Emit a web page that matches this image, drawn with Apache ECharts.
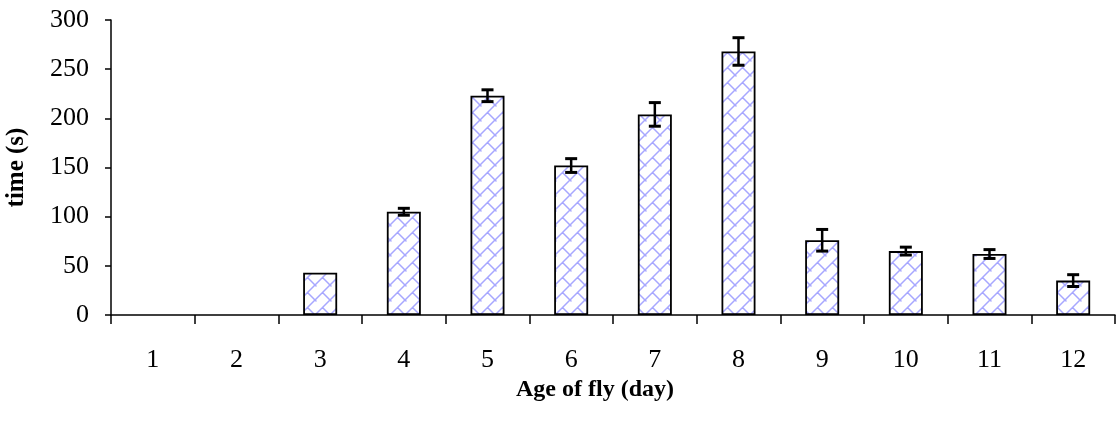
<!DOCTYPE html>
<html>
<head>
<meta charset="utf-8">
<script src="https://cdn.jsdelivr.net/npm/echarts@6/dist/echarts.min.js"></script>
<style>html,body{margin:0;padding:0;background:#fff;}#c{width:1116px;height:422px;}</style>
</head>
<body>
<div id="c"></div>
<script>
var categories = ['1','2','3','4','5','6','7','8','9','10','11','12'];
var meanTime = [0, 0, 43, 105, 223, 152, 204, 268, 76, 65, 62, 35];
var errTime = [0, 0, 0, 3.5, 6, 7, 12, 14, 11, 4, 4.5, 6];
var yTicks = {min: 0, max: 300, interval: 50};

function makePattern() {
  var s = 15;
  var cv = document.createElement('canvas');
  cv.width = s; cv.height = s;
  var ctx = cv.getContext('2d');
  ctx.fillStyle = '#ffffff';
  ctx.fillRect(0, 0, s, s);
  ctx.strokeStyle = 'rgba(130,130,255,0.7)';
  ctx.lineWidth = 1.5;
  ctx.lineCap = 'round';
  ctx.beginPath();
  ctx.moveTo(-2, s + 2); ctx.lineTo(s + 2, -2);
  ctx.moveTo(s / 2, s / 2); ctx.lineTo(s + 1, s + 1);
  ctx.moveTo(-1, -1); ctx.lineTo(1, 1);
  ctx.stroke();
  return cv;
}

var barData = meanTime.map(function (v) { return v > 0 ? v : null; });
var errData = categories.map(function (c, i) {
  return [i, meanTime[i] - errTime[i], meanTime[i] + errTime[i], errTime[i]];
});

var chart = echarts.init(document.getElementById('c'), null, {renderer: 'canvas'});
var font = 'Liberation Serif';
chart.setOption({
  animation: false,
  backgroundColor: '#ffffff',
  grid: {left: 111, right: 1, top: 20, bottom: 107, outerBoundsMode: 'none', containLabel: false},
  xAxis: {
    type: 'category',
    data: categories,
    boundaryGap: true,
    name: 'Age of fly (day)',
    nameLocation: 'middle',
    nameGap: 58,
    nameTextStyle: {fontFamily: font, fontWeight: 'bold', fontSize: 24, color: '#000', padding: [0, 36, 0, 0]},
    axisLine: {lineStyle: {color: '#000', width: 1.5}},
    axisTick: {show: true, length: 9, lineStyle: {color: '#000', width: 1.5}},
    axisLabel: {fontFamily: font, fontSize: 26, color: '#000', margin: 32}
  },
  yAxis: {
    type: 'value',
    min: yTicks.min, max: yTicks.max, interval: yTicks.interval,
    name: 'time (s)',
    nameLocation: 'middle',
    nameGap: 82,
    nameRotate: 90,
    nameTextStyle: {fontFamily: font, fontWeight: 'bold', fontSize: 25, color: '#000'},
    splitLine: {show: false},
    axisLine: {show: true, lineStyle: {color: '#000', width: 1.5}},
    axisTick: {show: true, length: 6, lineStyle: {color: '#000', width: 1.5}},
    axisLabel: {fontFamily: font, fontSize: 26, color: '#000', margin: 22}
  },
  series: [
    {
      type: 'bar',
      data: barData,
      barWidth: 34,
      itemStyle: {
        color: {image: makePattern(), repeat: 'repeat'},
        borderColor: '#000',
        borderWidth: 1.8
      },
      z: 2
    },
    {
      type: 'custom',
      data: errData,
      z: 5,
      renderItem: function (params, api) {
        if (api.value(3) <= 0) return null;
        var lo = api.coord([api.value(0), api.value(1)]);
        var hi = api.coord([api.value(0), api.value(2)]);
        var x = lo[0], hw = 6;
        var st = {stroke: '#000', lineWidth: 3};
        return {
          type: 'group',
          children: [
            {type: 'line', shape: {x1: x, y1: hi[1], x2: x, y2: lo[1]}, style: {stroke: '#000', lineWidth: 2.5}},
            {type: 'line', shape: {x1: x - hw, y1: hi[1], x2: x + hw, y2: hi[1]}, style: st},
            {type: 'line', shape: {x1: x - hw, y1: lo[1], x2: x + hw, y2: lo[1]}, style: st}
          ]
        };
      }
    }
  ]
});
</script>
</body>
</html>
